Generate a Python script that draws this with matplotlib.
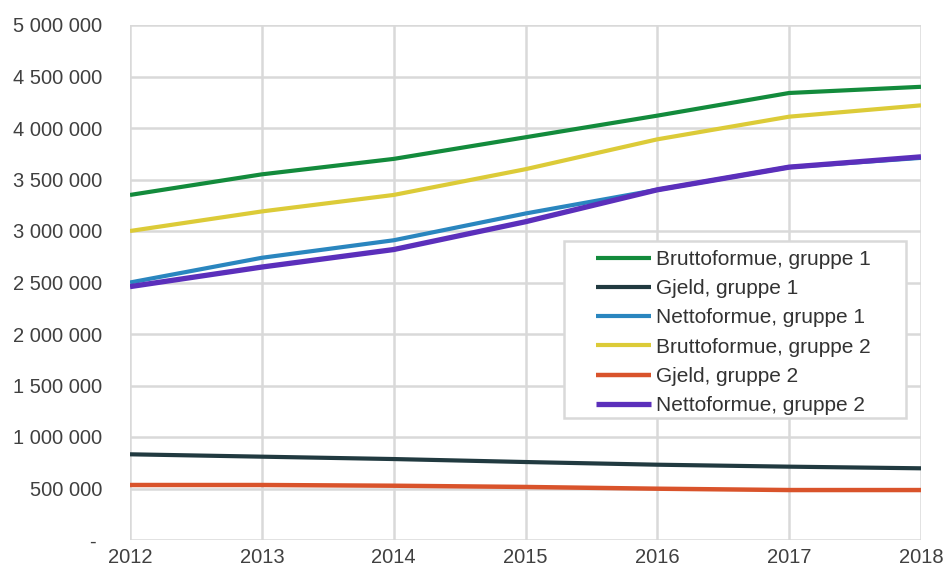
import matplotlib
matplotlib.use("Agg")
import numpy as np
import matplotlib.pyplot as plt
from matplotlib.ticker import FuncFormatter
from matplotlib.legend_handler import HandlerLine2D
from matplotlib.patches import Rectangle

years = [2012, 2013, 2014, 2015, 2016, 2017, 2018]
brutto_1 = [3350000, 3550000, 3700000, 3910000, 4120000, 4340000, 4400000]
gjeld_1 = [832000, 809000, 786000, 757000, 731000, 712000, 696000]
netto_1 = [2500000, 2740000, 2910000, 3170000, 3400000, 3620000, 3710000]
brutto_2 = [3000000, 3190000, 3350000, 3600000, 3890000, 4110000, 4220000]
gjeld_2 = [534000, 534000, 527000, 515000, 498000, 485000, 485000]
netto_2 = [2460000, 2650000, 2820000, 3090000, 3400000, 3620000, 3720000]

labels = ["Bruttoformue, gruppe 1", "Gjeld, gruppe 1", "Nettoformue, gruppe 1",
          "Bruttoformue, gruppe 2", "Gjeld, gruppe 2", "Nettoformue, gruppe 2"]
series = [brutto_1, gjeld_1, netto_1, brutto_2, gjeld_2, netto_2]
colors = ["#138b3c", "#213a40", "#2a86bf", "#dccb38", "#d9532b", "#5b2fbb"]
widths = [3.0, 3.0, 3.0, 3.0, 3.2, 3.8]

plt.rcParams["font.family"] = ["Liberation Sans", "DejaVu Sans"]

W, H = 946, 567


class RightLine(HandlerLine2D):
    """Legend line that occupies only the right part of the handle box."""
    frac = 0.67

    def get_xdata(self, legend, xdescent, ydescent, width, height, fontsize):
        x0 = -xdescent + width * (1 - self.frac)
        x1 = -xdescent + width
        xdata = np.array([x0, x1])
        return xdata, xdata


fig = plt.figure(figsize=(W / 100, H / 100), dpi=100)
ax = fig.add_axes([130 / W, 1 - 540 / H, (921 - 130) / W, (540 - 25) / H])

lines = []
for vals, lab, col, lw in zip(series, labels, colors, widths):
    ln, = ax.plot(years, vals, color=col, lw=lw, label=lab, solid_capstyle="butt", zorder=3)
    lines.append(ln)

ax.set_xlim(2012, 2018)
ax.set_ylim(0, 5000000)
ax.set_yticks(range(0, 5000001, 500000))
ax.set_xticks(years)


def fmt(v, pos):
    if v == 0:
        return "- "
    return f"{int(v):,}".replace(",", " ")


ax.yaxis.set_major_formatter(FuncFormatter(fmt))
ax.grid(True, color="#d9d9d9", lw=1.8, zorder=0)
for s in ax.spines.values():
    s.set_visible(False)
ax.tick_params(length=0, labelsize=14.5, colors="#404040")
ax.tick_params(axis="y", pad=20)
ax.tick_params(axis="x", pad=6)

# legend box
box = Rectangle((564 / W, 1 - 418 / H), (906 - 564) / W, (418 - 241) / H,
                transform=fig.transFigure, facecolor="white", edgecolor="#d9d9d9",
                lw=1.8, zorder=4, clip_on=False)
ax.add_artist(box)

leg = ax.legend(handles=lines, loc="upper left",
                bbox_to_anchor=(569 / W, 1 - 250 / H), bbox_transform=fig.transFigure,
                fontsize=15, frameon=False, handlelength=3.93,
                handletextpad=0.24, labelspacing=0.49, borderpad=0, borderaxespad=0,
                handler_map={ln: RightLine() for ln in lines})
leg.set_zorder(5)
for t in leg.get_texts():
    t.set_color("#333333")

fig.savefig("out.png", dpi=100)
